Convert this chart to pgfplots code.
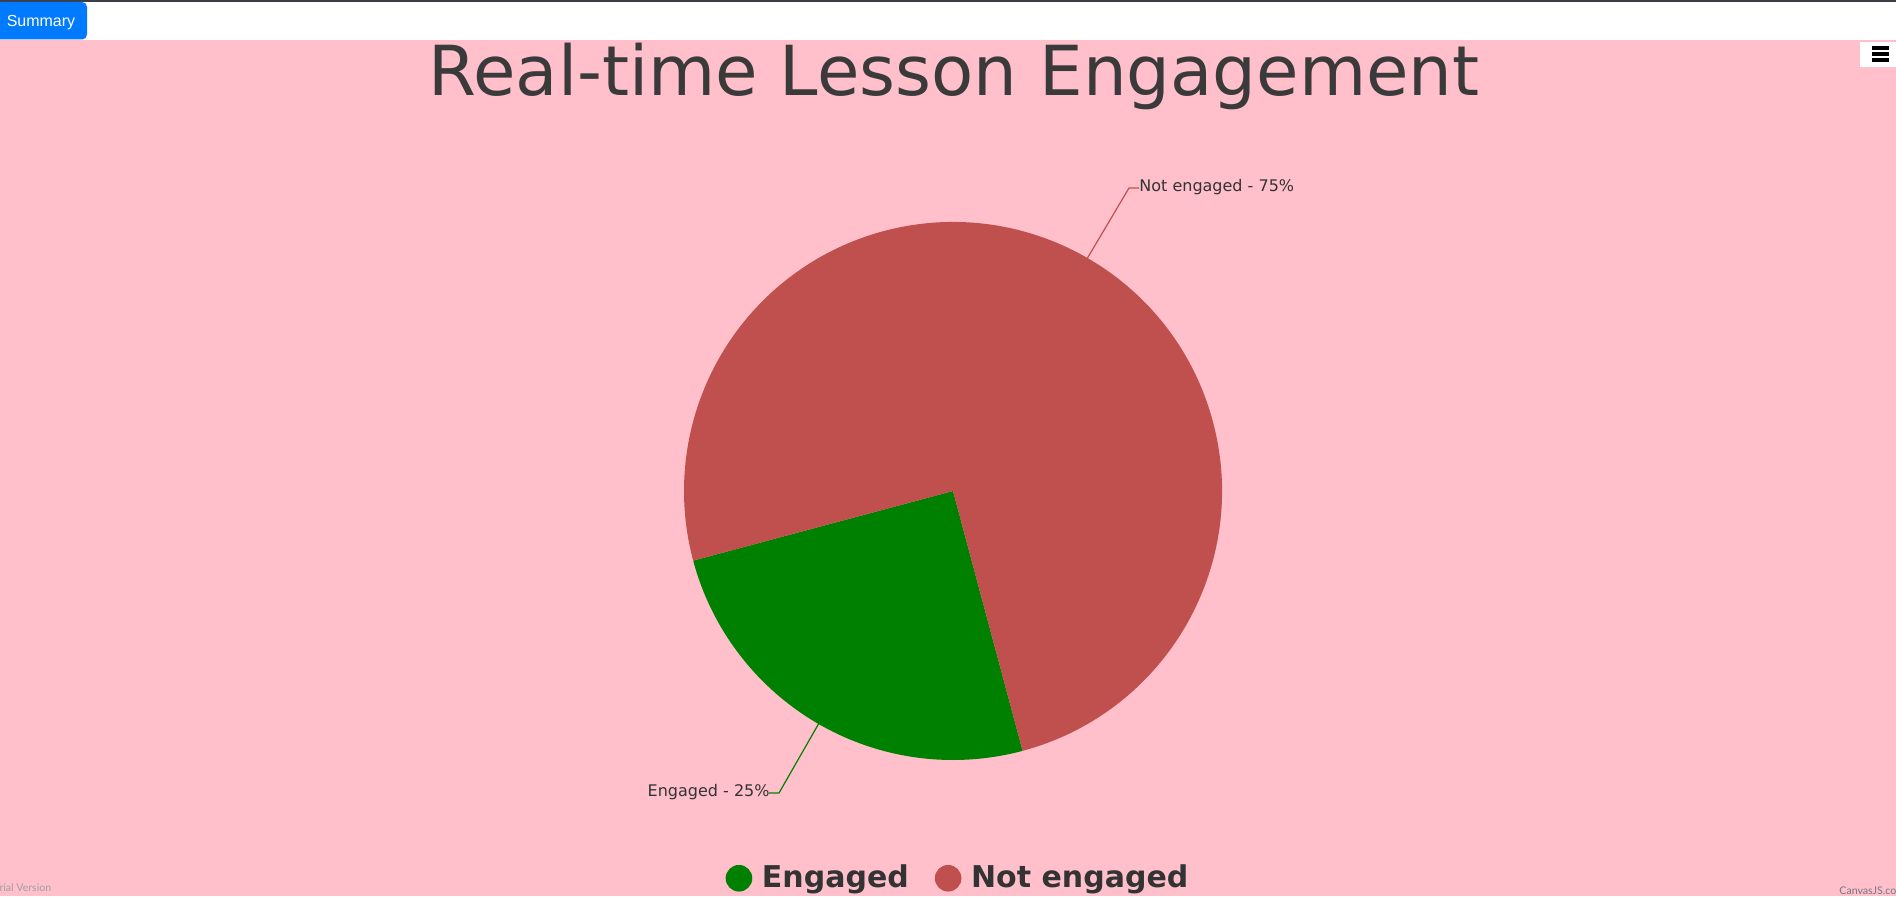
\documentclass[border=0pt]{standalone}
\usepackage{pgfplots}
\pgfplotsset{compat=1.18}
\usepackage{pgfplotstable}
\usepackage{fontspec}
\setmainfont{DejaVu Sans}
\newfontfamily\arialfont{Liberation Sans}
\newfontfamily\latofont{Lato}
\definecolor{bgpink}{HTML}{FFC0CB}
\definecolor{pieGreen}{HTML}{008000}
\definecolor{pieRed}{HTML}{C0504E}
\definecolor{txt}{HTML}{333333}
\definecolor{titletxt}{HTML}{3A3A3A}
\definecolor{btnblue}{HTML}{007BFF}
\definecolor{topline}{HTML}{3D3D45}
\definecolor{trialgray}{HTML}{A0A0A0}
\definecolor{cjsgray}{HTML}{767684}

\pgfplotstableread{
label value
Engaged 25
NotEngaged 75
}\piedata

\begin{document}
\begin{tikzpicture}
\pgfplotstablegetelem{0}{value}\of\piedata \let\vA\pgfplotsretval
\pgfplotstablegetelem{1}{value}\of\piedata \let\vB\pgfplotsretval
\pgfmathsetmacro\sA{195}
\pgfmathsetmacro\eA{\sA+\vA*3.6}
\pgfmathsetmacro\eB{\eA+\vB*3.6}
\useasboundingbox (0,0) rectangle (948pt,451pt);
\clip (0,0) rectangle (948pt,451pt);
\begin{axis}[
  scale only axis, width=948pt, height=451pt,
  xmin=0, xmax=1896, ymin=0, ymax=902,
  hide axis, clip=false,
  legend style={at={(axis cs:957,24)}, anchor=center, draw=none, fill=none,
    font=\fontsize{15}{17}\selectfont\bfseries, text=txt,
    nodes={inner sep=0pt, anchor=base west},
    /tikz/every even column/.append style={column sep=13pt}},
  legend columns=2,
]
% page background
\fill[white] (axis cs:0,0) rectangle (axis cs:1896,902);
\fill[bgpink] (axis cs:0,6) rectangle (axis cs:1896,862);
\fill[topline] (axis cs:0,900) rectangle (axis cs:1896,902);
% Summary button
\fill[btnblue, rounded corners=2.5pt] (axis cs:-10,862.5) rectangle (axis cs:87,900);
\node[anchor=base, text=white, font=\arialfont\fontsize{8}{9.6}\selectfont, inner sep=0pt] at (axis cs:41,875) {Summary};
% menu button
\fill[white] (axis cs:1860,835) rectangle (axis cs:1900,860);
\fill[black] (axis cs:1872,852.4) rectangle (axis cs:1889,855.5);
\fill[black] (axis cs:1872,846.4) rectangle (axis cs:1889,849.5);
\fill[black] (axis cs:1872,840.4) rectangle (axis cs:1889,843.5);
% title
\node[anchor=base, text=titletxt, font=\fontsize{34.5}{40}\selectfont, inner sep=0pt] at (axis cs:954,806) {Real-time Lesson Engagement};
% pie slices
\fill[pieGreen] (axis cs:953,411) -- ++(\sA:134.5pt) arc[start angle=\sA, end angle=\eA, radius=134.5pt] -- cycle;
\fill[pieRed] (axis cs:953,411) -- ++(\eA:134.5pt) arc[start angle=\eA, end angle=\eB, radius=134.5pt] -- cycle;
% index labels
\draw[pieRed, line width=0.6pt] (axis cs:1087.5,644) -- (axis cs:1129,714) -- (axis cs:1139,714);
\node[anchor=base west, text=txt, font=\fontsize{8}{10}\selectfont, inner sep=0pt] at (axis cs:1139,711) {Not engaged - 75\%};
\draw[pieGreen, line width=0.6pt] (axis cs:818.5,178) -- (axis cs:779,109) -- (axis cs:769,109);
\node[anchor=base east, text=txt, font=\fontsize{8}{10}\selectfont, inner sep=0pt] at (axis cs:770,106) {Engaged - 25\%};
% credits
\node[anchor=base west, text=trialgray, font=\latofont\fontsize{5.3}{6}\selectfont, inner sep=0pt] at (axis cs:-6,11) {Trial Version};
\node[anchor=base west, text=cjsgray, font=\latofont\fontsize{5.3}{6}\selectfont, inner sep=0pt] at (axis cs:1839,8) {CanvasJS.com};
% legend
\addlegendimage{legend image code/.code={\fill[pieGreen, draw=none] (0pt,4.5pt) circle (6.65pt); \path[draw=none, fill=none] (-6.65pt,0) -- (11.5pt,0);}}
\addlegendentry{Engaged}
\addlegendimage{legend image code/.code={\fill[pieRed, draw=none] (0pt,4.5pt) circle (6.65pt); \path[draw=none, fill=none] (-6.65pt,0) -- (11.5pt,0);}}
\addlegendentry{Not engaged}
\end{axis}
\end{tikzpicture}
\end{document}
